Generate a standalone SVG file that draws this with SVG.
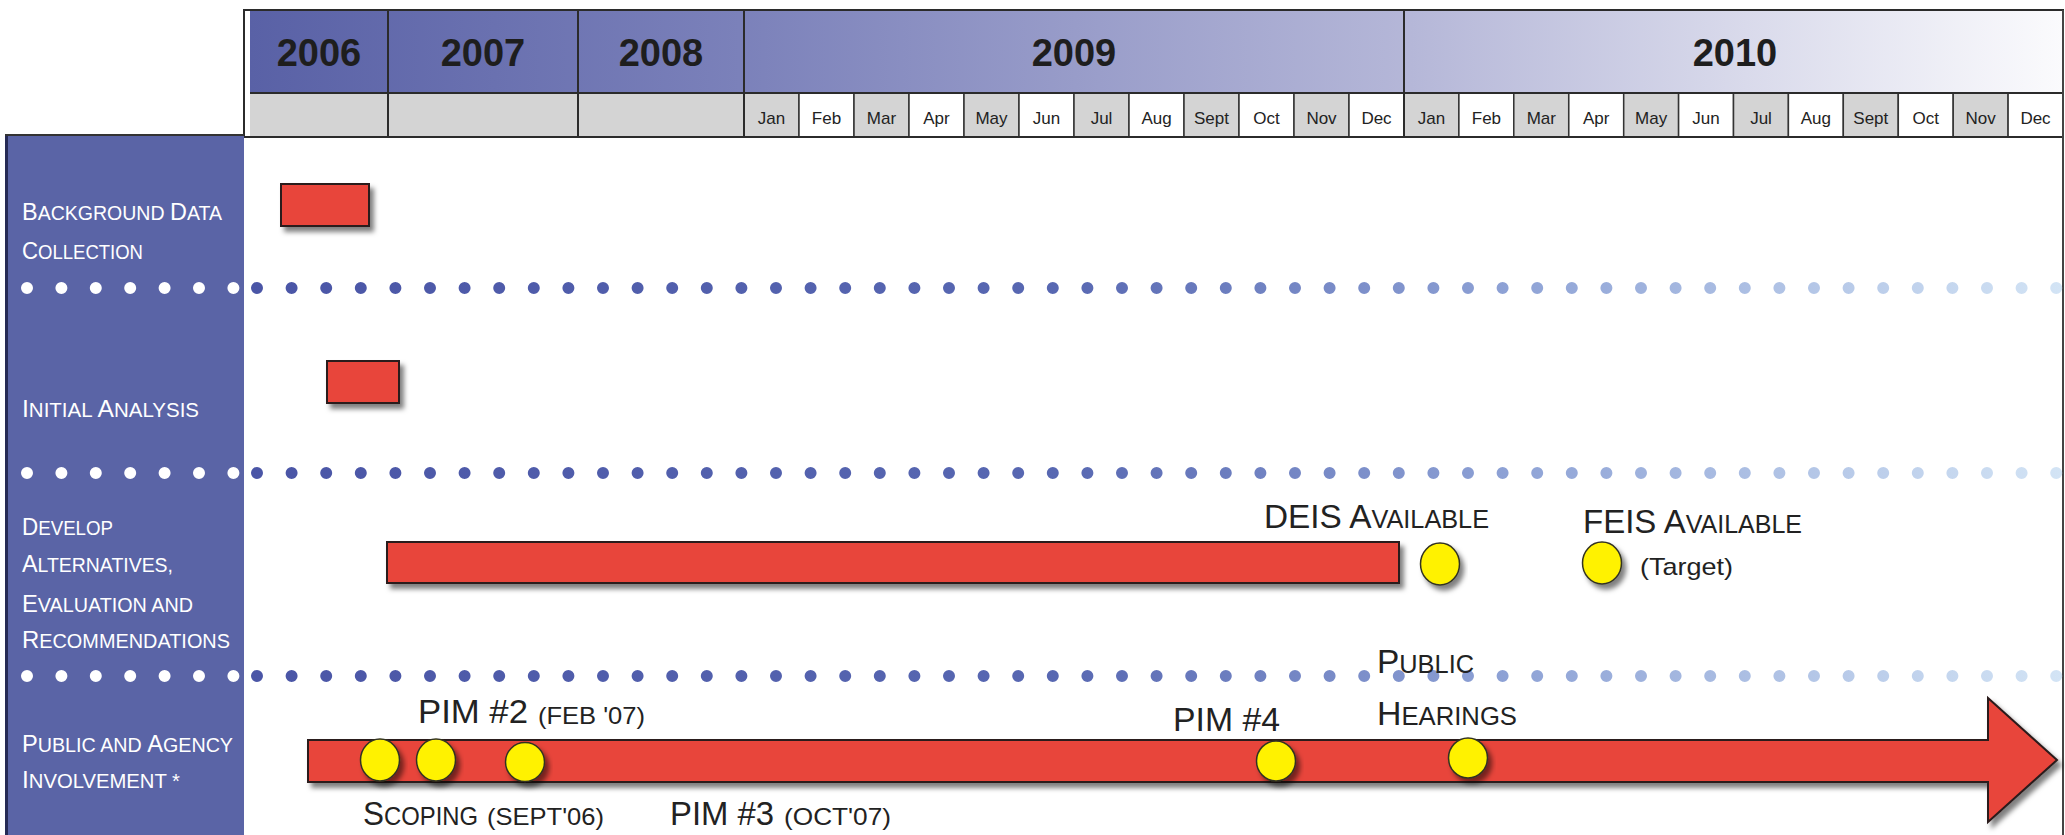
<svg xmlns="http://www.w3.org/2000/svg" width="2065" height="835" viewBox="0 0 2065 835">
<defs>
<linearGradient id="yearGrad" gradientUnits="userSpaceOnUse" x1="250" y1="0" x2="2063" y2="0">
<stop offset="0" stop-color="#5961a6"/>
<stop offset="0.27" stop-color="#7b81ba"/>
<stop offset="0.64" stop-color="#b5b7d8"/>
<stop offset="1" stop-color="#fbfbfd"/>
</linearGradient>
<linearGradient id="dotGrad" gradientUnits="userSpaceOnUse" x1="244" y1="0" x2="2062" y2="0">
<stop offset="0" stop-color="#4a55a6"/>
<stop offset="0.45" stop-color="#5868b2"/>
<stop offset="0.7" stop-color="#8fa3d6"/>
<stop offset="1" stop-color="#d3e4f5"/>
</linearGradient>
<filter id="shadow" x="-10%" y="-30%" width="130%" height="180%">
<feDropShadow dx="4" dy="5" stdDeviation="2.5" flood-color="#000" flood-opacity="0.5"/>
</filter>
<style>
text { font-family: "Liberation Sans", Arial, sans-serif; }
.year { font-size: 38px; font-weight: bold; fill: #1e1e1e; text-anchor: middle; }
.mon { font-size: 17px; fill: #222; text-anchor: middle; }
.lbl { font-size: 20px; fill: #ffffff; }
.lbl .b { font-size: 24px; }
.tl { font-size: 25px; fill: #222; }
.tl .b { font-size: 33px; }
.pim { font-size: 34px; fill: #222; }
.note { font-size: 24px; fill: #222; }
.bar { fill: #e8443a; stroke: #2a1a1a; stroke-width: 2; filter: url(#shadow); }
.ms { fill: #fff200; stroke: #333322; stroke-width: 1.5; filter: url(#shadow); }
.cell { stroke: #333; stroke-width: 1.5; }
.g { fill: #d4d4d4; }
.w { fill: #ffffff; }
.div { stroke: #2b2b2b; stroke-width: 2; }
.dots { fill: none; stroke-width: 12; stroke-linecap: round; }
</style>
</defs>
<rect width="2065" height="835" fill="#ffffff"/>

<g id="header">
<rect x="250" y="11" width="1813" height="82" fill="url(#yearGrad)"/>
<rect x="250" y="93" width="494" height="44" class="g"/>
<g id="months-2009">
<rect class="cell g" x="744" y="93" width="55" height="44"/>
<rect class="cell w" x="799" y="93" width="55" height="44"/>
<rect class="cell g" x="854" y="93" width="55" height="44"/>
<rect class="cell w" x="909" y="93" width="55" height="44"/>
<rect class="cell g" x="964" y="93" width="55" height="44"/>
<rect class="cell w" x="1019" y="93" width="55" height="44"/>
<rect class="cell g" x="1074" y="93" width="55" height="44"/>
<rect class="cell w" x="1129" y="93" width="55" height="44"/>
<rect class="cell g" x="1184" y="93" width="55" height="44"/>
<rect class="cell w" x="1239" y="93" width="55" height="44"/>
<rect class="cell g" x="1294" y="93" width="55" height="44"/>
<rect class="cell w" x="1349" y="93" width="55" height="44"/>
<text class="mon" x="771.5" y="124">Jan</text>
<text class="mon" x="826.5" y="124">Feb</text>
<text class="mon" x="881.5" y="124">Mar</text>
<text class="mon" x="936.5" y="124">Apr</text>
<text class="mon" x="991.5" y="124">May</text>
<text class="mon" x="1046.5" y="124">Jun</text>
<text class="mon" x="1101.5" y="124">Jul</text>
<text class="mon" x="1156.5" y="124">Aug</text>
<text class="mon" x="1211.5" y="124">Sept</text>
<text class="mon" x="1266.5" y="124">Oct</text>
<text class="mon" x="1321.5" y="124">Nov</text>
<text class="mon" x="1376.5" y="124">Dec</text>
</g>
<g id="months-2010">
<rect class="cell g" x="1404" y="93" width="54.9" height="44"/>
<rect class="cell w" x="1458.9" y="93" width="54.9" height="44"/>
<rect class="cell g" x="1513.8" y="93" width="54.9" height="44"/>
<rect class="cell w" x="1568.8" y="93" width="54.9" height="44"/>
<rect class="cell g" x="1623.7" y="93" width="54.9" height="44"/>
<rect class="cell w" x="1678.6" y="93" width="54.9" height="44"/>
<rect class="cell g" x="1733.5" y="93" width="54.9" height="44"/>
<rect class="cell w" x="1788.4" y="93" width="54.9" height="44"/>
<rect class="cell g" x="1843.3" y="93" width="54.9" height="44"/>
<rect class="cell w" x="1898.3" y="93" width="54.9" height="44"/>
<rect class="cell g" x="1953.2" y="93" width="54.9" height="44"/>
<rect class="cell w" x="2008.1" y="93" width="54.9" height="44"/>
<text class="mon" x="1431.5" y="124">Jan</text>
<text class="mon" x="1486.4" y="124">Feb</text>
<text class="mon" x="1541.3" y="124">Mar</text>
<text class="mon" x="1596.2" y="124">Apr</text>
<text class="mon" x="1651.1" y="124">May</text>
<text class="mon" x="1706" y="124">Jun</text>
<text class="mon" x="1761" y="124">Jul</text>
<text class="mon" x="1815.9" y="124">Aug</text>
<text class="mon" x="1870.8" y="124">Sept</text>
<text class="mon" x="1925.7" y="124">Oct</text>
<text class="mon" x="1980.6" y="124">Nov</text>
<text class="mon" x="2035.5" y="124">Dec</text>
</g>
<line class="div" x1="250" y1="93" x2="2063" y2="93"/>
<line class="div" x1="388" y1="10" x2="388" y2="137"/>
<line class="div" x1="578" y1="10" x2="578" y2="137"/>
<line class="div" x1="744" y1="10" x2="744" y2="137"/>
<line class="div" x1="1404" y1="10" x2="1404" y2="137"/>
<rect x="244" y="10" width="1819" height="127" fill="none" stroke="#2b2b2b" stroke-width="2"/>
<text class="year" x="319" y="66">2006</text>
<text class="year" x="483" y="66">2007</text>
<text class="year" x="661" y="66">2008</text>
<text class="year" x="1074" y="66">2009</text>
<text class="year" x="1735" y="66">2010</text>
</g>

<line id="frame-right" x1="2063" y1="10" x2="2063" y2="835" stroke="#444" stroke-width="2"/>

<g id="left-panel">
<rect x="6" y="135" width="238" height="700" fill="#5a64a6"/>
<line x1="6.5" y1="134" x2="6.5" y2="835" stroke="#262a55" stroke-width="3"/>
<line x1="5" y1="135" x2="244" y2="135" stroke="#333" stroke-width="2"/>
</g>

<g id="separators">
<line class="dots" x1="27" y1="288" x2="234" y2="288" stroke="#ffffff" stroke-dasharray="0 34.4"/>
<line class="dots" x1="257" y1="288" x2="2058" y2="288" stroke="url(#dotGrad)" stroke-dasharray="0 34.6"/>
<line class="dots" x1="27" y1="473" x2="234" y2="473" stroke="#ffffff" stroke-dasharray="0 34.4"/>
<line class="dots" x1="257" y1="473" x2="2058" y2="473" stroke="url(#dotGrad)" stroke-dasharray="0 34.6"/>
<line class="dots" x1="27" y1="676" x2="234" y2="676" stroke="#ffffff" stroke-dasharray="0 34.4"/>
<line class="dots" x1="257" y1="676" x2="2058" y2="676" stroke="url(#dotGrad)" stroke-dasharray="0 34.6"/>
</g>

<g id="row-background-data">
<text class="lbl" x="22" y="220" textLength="200" lengthAdjust="spacingAndGlyphs"><tspan class="b">B</tspan>ACKGROUND <tspan class="b">D</tspan>ATA</text>
<text class="lbl" x="22" y="259" textLength="121" lengthAdjust="spacingAndGlyphs"><tspan class="b">C</tspan>OLLECTION</text>
<rect class="bar" x="281" y="184" width="88" height="42"/>
</g>

<g id="row-initial-analysis">
<text class="lbl" x="22" y="417" textLength="177" lengthAdjust="spacingAndGlyphs"><tspan class="b">I</tspan>NITIAL <tspan class="b">A</tspan>NALYSIS</text>
<rect class="bar" x="327" y="361" width="72" height="42"/>
</g>

<g id="row-develop">
<text class="lbl" x="22" y="535" textLength="91" lengthAdjust="spacingAndGlyphs"><tspan class="b">D</tspan>EVELOP</text>
<text class="lbl" x="22" y="572" textLength="151" lengthAdjust="spacingAndGlyphs"><tspan class="b">A</tspan>LTERNATIVES,</text>
<text class="lbl" x="22" y="612" textLength="171" lengthAdjust="spacingAndGlyphs"><tspan class="b">E</tspan>VALUATION AND</text>
<text class="lbl" x="22" y="648" textLength="208" lengthAdjust="spacingAndGlyphs"><tspan class="b">R</tspan>ECOMMENDATIONS</text>
<rect class="bar" x="387" y="542" width="1012" height="41"/>
</g>

<g id="milestone-deis">
<ellipse class="ms" cx="1440" cy="564" rx="19.5" ry="21"/>
<text class="tl" x="1264" y="528" textLength="225" lengthAdjust="spacingAndGlyphs"><tspan class="b">DEIS A</tspan>VAILABLE</text>
</g>

<g id="milestone-feis">
<ellipse class="ms" cx="1602" cy="563" rx="19.5" ry="21"/>
<text class="tl" x="1583" y="533" textLength="219" lengthAdjust="spacingAndGlyphs"><tspan class="b">FEIS A</tspan>VAILABLE</text>
<text class="note" x="1640" y="575" textLength="93" lengthAdjust="spacingAndGlyphs">(Target)</text>
</g>

<g id="row-public">
<text class="lbl" x="22" y="752" textLength="211" lengthAdjust="spacingAndGlyphs"><tspan class="b">P</tspan>UBLIC AND <tspan class="b">A</tspan>GENCY</text>
<text class="lbl" x="22" y="788" textLength="158" lengthAdjust="spacingAndGlyphs"><tspan class="b">I</tspan>NVOLVEMENT *</text>
<polygon class="bar" points="308,740 1988,740 1988,698 2057,760 1988,822 1988,782 308,782"/>
</g>

<g id="milestone-scoping">
<ellipse class="ms" cx="380" cy="760" rx="19.5" ry="21"/>
<text class="tl" x="363" y="825" textLength="115" lengthAdjust="spacingAndGlyphs"><tspan class="b">S</tspan>COPING</text>
<text class="note" x="487" y="825" textLength="117" lengthAdjust="spacingAndGlyphs">(SEPT'06)</text>
</g>

<g id="milestone-pim2">
<ellipse class="ms" cx="436" cy="760" rx="19.5" ry="21"/>
<text class="pim" x="418" y="723" textLength="110" lengthAdjust="spacingAndGlyphs">PIM #2</text>
<text class="note" x="538" y="724" textLength="107" lengthAdjust="spacingAndGlyphs">(FEB '07)</text>
</g>

<g id="milestone-pim3">
<ellipse class="ms" cx="525" cy="762" rx="19.5" ry="19.5"/>
<text class="pim" x="670" y="825" textLength="104" lengthAdjust="spacingAndGlyphs">PIM #3</text>
<text class="note" x="784" y="825" textLength="107" lengthAdjust="spacingAndGlyphs">(OCT'07)</text>
</g>

<g id="milestone-pim4">
<ellipse class="ms" cx="1276" cy="761" rx="19.5" ry="20"/>
<text class="pim" x="1173" y="731" textLength="107" lengthAdjust="spacingAndGlyphs">PIM #4</text>
</g>

<g id="milestone-hearings">
<ellipse class="ms" cx="1468" cy="758" rx="19.5" ry="20"/>
<text class="tl" x="1377" y="673" textLength="97" lengthAdjust="spacingAndGlyphs"><tspan class="b">P</tspan>UBLIC</text>
<text class="tl" x="1377" y="725" textLength="140" lengthAdjust="spacingAndGlyphs"><tspan class="b">H</tspan>EARINGS</text>
</g>
</svg>
